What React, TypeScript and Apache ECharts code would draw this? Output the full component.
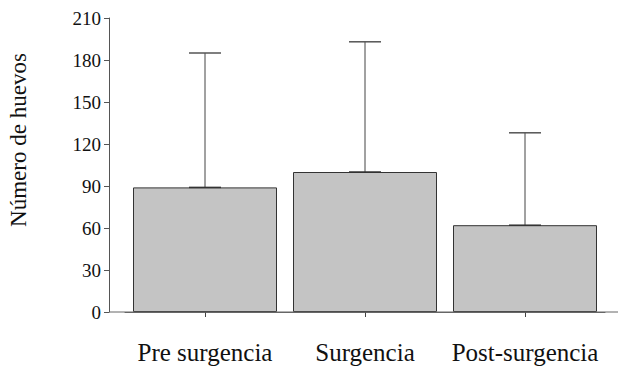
import React, { useEffect, useRef } from "react";
import * as echarts from "echarts";

const categories = ["Pre surgencia", "Surgencia", "Post-surgencia"];
const means = [89, 100, 62];
const upperErrors = [185, 193, 128];
const yTitle = "Número de huevos";

const SERIF = "Liberation Serif";

export default function App() {
  const ref = useRef<HTMLDivElement>(null);
  useEffect(() => {
    if (!ref.current) return;
    const chart = echarts.init(ref.current, undefined, { renderer: "svg" });
    const gridLeft = 125;
    const gridRight = 13;
    const gridTop = 18;
    const gridBottom = 58;
    const errData = categories.map((c, i) => [i, means[i], upperErrors[i]]);
    chart.setOption({
      animation: false,
      backgroundColor: "#ffffff",
      grid: { left: gridLeft, right: gridRight, top: gridTop, bottom: gridBottom },
      xAxis: {
        type: "category",
        data: categories,
        axisLine: { show: true, lineStyle: { color: "#666", width: 1 } },
        axisTick: { show: true, alignWithLabel: true, length: 5, lineStyle: { color: "#444" } },
        axisLabel: {
          interval: 0,
          hideOverlap: false,
          margin: 28,
          fontFamily: SERIF,
          fontSize: 25,
          color: "#111",
        },
        splitLine: { show: false },
      },
      yAxis: {
        type: "value",
        min: 0,
        max: 210,
        interval: 30,
        offset: 16,
        axisLine: { show: true, lineStyle: { color: "#555", width: 1 } },
        axisTick: { show: true, length: 5, lineStyle: { color: "#555" } },
        axisLabel: {
          margin: 8,
          fontFamily: SERIF,
          fontSize: 19,
          color: "#111",
        },
        splitLine: { show: false },
      },
      graphic: [
        {
          type: "line",
          shape: { x1: gridLeft - 16, y1: 370 - gridBottom, x2: 618, y2: 370 - gridBottom },
          style: { stroke: "#666", lineWidth: 1 },
          z: 10,
        },
        {
          type: "text",
          x: 18,
          y: 140,
          rotation: Math.PI / 2,
          style: {
            text: yTitle,
            fontFamily: SERIF,
            fontSize: 23,
            fill: "#111",
            align: "center",
            verticalAlign: "middle",
          },
        },
      ],
      series: [
        {
          type: "bar",
          data: means,
          barWidth: 144,
          itemStyle: { color: "#c4c4c4", borderColor: "#333", borderWidth: 1 },
        },
        {
          type: "custom",
          data: errData,
          z: 5,
          renderItem: (params: any, api: any) => {
            const x = api.value(0);
            const base = api.coord([x, api.value(1)]);
            const top = api.coord([x, api.value(2)]);
            const half = 16;
            return {
              type: "group",
              children: [
                {
                  type: "line",
                  shape: { x1: base[0], y1: base[1], x2: top[0], y2: top[1] },
                  style: { stroke: "#444", lineWidth: 1 },
                },
                {
                  type: "line",
                  shape: { x1: top[0] - half, y1: top[1], x2: top[0] + half, y2: top[1] },
                  style: { stroke: "#555", lineWidth: 1.5 },
                },
                {
                  type: "line",
                  shape: { x1: base[0] - half, y1: base[1], x2: base[0] + half, y2: base[1] },
                  style: { stroke: "#333", lineWidth: 1.5 },
                },
              ],
            };
          },
        },
      ],
    });
    return () => chart.dispose();
  }, []);
  return <div ref={ref} style={{ width: 618, height: 370, position: "absolute", left: 0, top: 0 }} />;
}
